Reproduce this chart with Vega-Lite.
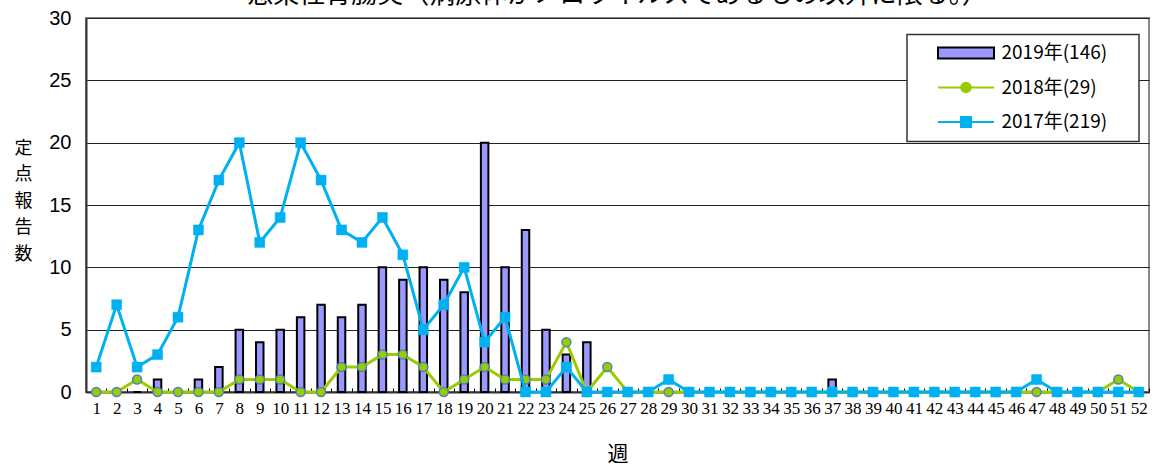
{
  "$schema": "https://vega.github.io/schema/vega-lite/v6.json",
  "autosize": {"type": "none"},
  "padding": {"left": 86, "top": 18, "right": 5, "bottom": 75},
  "width": 1063,
  "height": 374,
  "background": "white",
  "title": {
    "text": "感染性胃腸炎（病原体がノロウイルスであるもの以外に限る。）",
    "font": "Noto Sans CJK JP",
    "fontSize": 26,
    "fontWeight": "normal",
    "color": "#000000",
    "anchor": "middle",
    "offset": 0
  },
  "datasets": {
    "weekly": [
      {"week": 1, "y2019": 0, "y2018": 0, "y2017": 2},
      {"week": 2, "y2019": 0, "y2018": 0, "y2017": 7},
      {"week": 3, "y2019": 0, "y2018": 1, "y2017": 2},
      {"week": 4, "y2019": 1, "y2018": 0, "y2017": 3},
      {"week": 5, "y2019": 0, "y2018": 0, "y2017": 6},
      {"week": 6, "y2019": 1, "y2018": 0, "y2017": 13},
      {"week": 7, "y2019": 2, "y2018": 0, "y2017": 17},
      {"week": 8, "y2019": 5, "y2018": 1, "y2017": 20},
      {"week": 9, "y2019": 4, "y2018": 1, "y2017": 12},
      {"week": 10, "y2019": 5, "y2018": 1, "y2017": 14},
      {"week": 11, "y2019": 6, "y2018": 0, "y2017": 20},
      {"week": 12, "y2019": 7, "y2018": 0, "y2017": 17},
      {"week": 13, "y2019": 6, "y2018": 2, "y2017": 13},
      {"week": 14, "y2019": 7, "y2018": 2, "y2017": 12},
      {"week": 15, "y2019": 10, "y2018": 3, "y2017": 14},
      {"week": 16, "y2019": 9, "y2018": 3, "y2017": 11},
      {"week": 17, "y2019": 10, "y2018": 2, "y2017": 5},
      {"week": 18, "y2019": 9, "y2018": 0, "y2017": 7},
      {"week": 19, "y2019": 8, "y2018": 1, "y2017": 10},
      {"week": 20, "y2019": 20, "y2018": 2, "y2017": 4},
      {"week": 21, "y2019": 10, "y2018": 1, "y2017": 6},
      {"week": 22, "y2019": 13, "y2018": 1, "y2017": 0},
      {"week": 23, "y2019": 5, "y2018": 1, "y2017": 0},
      {"week": 24, "y2019": 3, "y2018": 4, "y2017": 2},
      {"week": 25, "y2019": 4, "y2018": 0, "y2017": 0},
      {"week": 26, "y2019": 0, "y2018": 2, "y2017": 0},
      {"week": 27, "y2019": 0, "y2018": 0, "y2017": 0},
      {"week": 28, "y2019": 0, "y2018": 0, "y2017": 0},
      {"week": 29, "y2019": 0, "y2018": 0, "y2017": 1},
      {"week": 30, "y2019": 0, "y2018": 0, "y2017": 0},
      {"week": 31, "y2019": 0, "y2018": 0, "y2017": 0},
      {"week": 32, "y2019": 0, "y2018": 0, "y2017": 0},
      {"week": 33, "y2019": 0, "y2018": 0, "y2017": 0},
      {"week": 34, "y2019": 0, "y2018": 0, "y2017": 0},
      {"week": 35, "y2019": 0, "y2018": 0, "y2017": 0},
      {"week": 36, "y2019": 0, "y2018": 0, "y2017": 0},
      {"week": 37, "y2019": 1, "y2018": 0, "y2017": 0},
      {"week": 38, "y2019": 0, "y2018": 0, "y2017": 0},
      {"week": 39, "y2019": 0, "y2018": 0, "y2017": 0},
      {"week": 40, "y2019": 0, "y2018": 0, "y2017": 0},
      {"week": 41, "y2019": 0, "y2018": 0, "y2017": 0},
      {"week": 42, "y2019": 0, "y2018": 0, "y2017": 0},
      {"week": 43, "y2019": 0, "y2018": 0, "y2017": 0},
      {"week": 44, "y2019": 0, "y2018": 0, "y2017": 0},
      {"week": 45, "y2019": 0, "y2018": 0, "y2017": 0},
      {"week": 46, "y2019": 0, "y2018": 0, "y2017": 0},
      {"week": 47, "y2019": 0, "y2018": 0, "y2017": 1},
      {"week": 48, "y2019": 0, "y2018": 0, "y2017": 0},
      {"week": 49, "y2019": 0, "y2018": 0, "y2017": 0},
      {"week": 50, "y2019": 0, "y2018": 0, "y2017": 0},
      {"week": 51, "y2019": 0, "y2018": 1, "y2017": 0},
      {"week": 52, "y2019": 0, "y2018": 0, "y2017": 0}
    ],
    "series": [
      {"series": "2019年(146)"},
      {"series": "2018年(29)"},
      {"series": "2017年(219)"}
    ]
  },
  "data": {"name": "weekly"},
  "encoding": {
    "x": {
      "field": "week",
      "type": "ordinal",
      "scale": {"domain": [1,2,3,4,5,6,7,8,9,10,11,12,13,14,15,16,17,18,19,20,21,22,23,24,25,26,27,28,29,30,31,32,33,34,35,36,37,38,39,40,41,42,43,44,45,46,47,48,49,50,51,52], "paddingInner": 0, "paddingOuter": 0},
      "axis": {
        "title": "週",
        "titleFont": "Noto Sans CJK JP",
        "titleFontSize": 21,
        "titleFontWeight": "normal",
        "titleColor": "#000000",
        "titlePadding": 27,
        "labelAngle": 0,
        "labelFont": "Liberation Sans Narrow",
        "labelFontSize": 17,
        "labelColor": "#000000",
        "labelPadding": 12,
        "labelBaseline": "top",
        "tickBand": "extent",
        "ticks": true,
        "tickSize": -4,
        "tickColor": "#000000",
        "tickWidth": 1,
        "domainColor": "#333333",
        "domainWidth": 2,
        "grid": false
      }
    }
  },
  "layer": [
    {
      "mark": {"type": "bar", "width": 7.5, "fill": "#9999ff", "stroke": "#000000", "strokeWidth": 2},
      "encoding": {
        "y": {
          "field": "y2019",
          "type": "quantitative",
          "scale": {"domain": [0, 30], "nice": false},
          "axis": {
            "title": ["定", "点", "報", "告", "数"],
            "titleAngle": 0,
            "titleFont": "Noto Sans CJK JP",
            "titleFontSize": 18,
            "titleFontWeight": "normal",
            "titleColor": "#000000",
            "titleLineHeight": 26.5,
            "titleAlign": "center",
            "titleBaseline": "middle",
            "titleX": -63,
            "titleY": 130,
            "values": [0, 5, 10, 15, 20, 25, 30],
            "labelFont": "Liberation Sans",
            "labelFontSize": 20,
            "labelColor": "#000000",
            "labelPadding": 15,
            "ticks": false,
            "grid": true,
            "gridColor": "#222222",
            "gridWidth": 1,
            "domainColor": "#333333",
            "domainWidth": 2
          }
        }
      }
    },
    {
      "mark": {"type": "line", "stroke": "#99cc00", "strokeWidth": 3},
      "encoding": {"y": {"field": "y2018", "type": "quantitative"}}
    },
    {
      "mark": {"type": "point", "shape": "circle", "filled": true, "fill": "#99cc00", "stroke": "#4f81bd", "strokeWidth": 1.5, "size": 81, "opacity": 1},
      "encoding": {"y": {"field": "y2018", "type": "quantitative"}}
    },
    {
      "mark": {"type": "line", "stroke": "#00b0f0", "strokeWidth": 3},
      "encoding": {"y": {"field": "y2017", "type": "quantitative"}}
    },
    {
      "mark": {"type": "point", "shape": "square", "filled": true, "fill": "#00b0f0", "stroke": "#00b0f0", "strokeWidth": 0.5, "size": 100, "opacity": 1},
      "encoding": {"y": {"field": "y2017", "type": "quantitative"}}
    },
    {
      "data": {"name": "series"},
      "transform": [{"filter": "false"}],
      "mark": {"type": "point", "filled": true, "size": 100, "strokeWidth": 2, "opacity": 1},
      "encoding": {
        "x": null,
        "shape": {
          "field": "series", "type": "nominal", "sort": null,
          "scale": {
            "domain": ["2019年(146)", "2018年(29)", "2017年(219)"],
            "range": ["M-5.6,-1.1H5.6V1.1H-5.6Z", "M-5.6,0H5.6M0.95,0A0.95,0.95,0,1,1,-0.95,0A0.95,0.95,0,1,1,0.95,0", "M-5.6,0H5.6M-1,-1H1V1H-1Z"]
          },
          "legend": {"title": "　"}
        },
        "fill": {
          "field": "series", "type": "nominal", "sort": null,
          "scale": {
            "domain": ["2019年(146)", "2018年(29)", "2017年(219)"],
            "range": ["#9999ff", "#99cc00", "#00b0f0"]
          },
          "legend": {"title": "　"}
        },
        "stroke": {
          "field": "series", "type": "nominal", "sort": null,
          "scale": {
            "domain": ["2019年(146)", "2018年(29)", "2017年(219)"],
            "range": ["#000000", "#99cc00", "#00b0f0"]
          },
          "legend": {"title": "　"}
        }
      }
    }
  ],
  "config": {
    "view": {"stroke": "#888888", "strokeWidth": 2},
    "legend": {
      "orient": "none",
      "legendX": 821,
      "legendY": 16.5,
      "padding": 9,
      "fillColor": "#ffffff",
      "strokeColor": "#333333",
      "strokeWidth": 1.5,
      "titleOrient": "right",
      "titleFont": "Noto Sans CJK JP",
      "titleFontSize": 20,
      "titlePadding": 23,
      "labelFont": "Noto Sans CJK JP",
      "labelFontSize": 19,
      "labelColor": "#000000",
      "symbolSize": 100,
      "symbolStrokeWidth": 2,
      "symbolOffset": 40.5,
      "labelOffset": 26,
      "rowPadding": 14.5,
      "symbolType": "circle"
    }
  }
}
